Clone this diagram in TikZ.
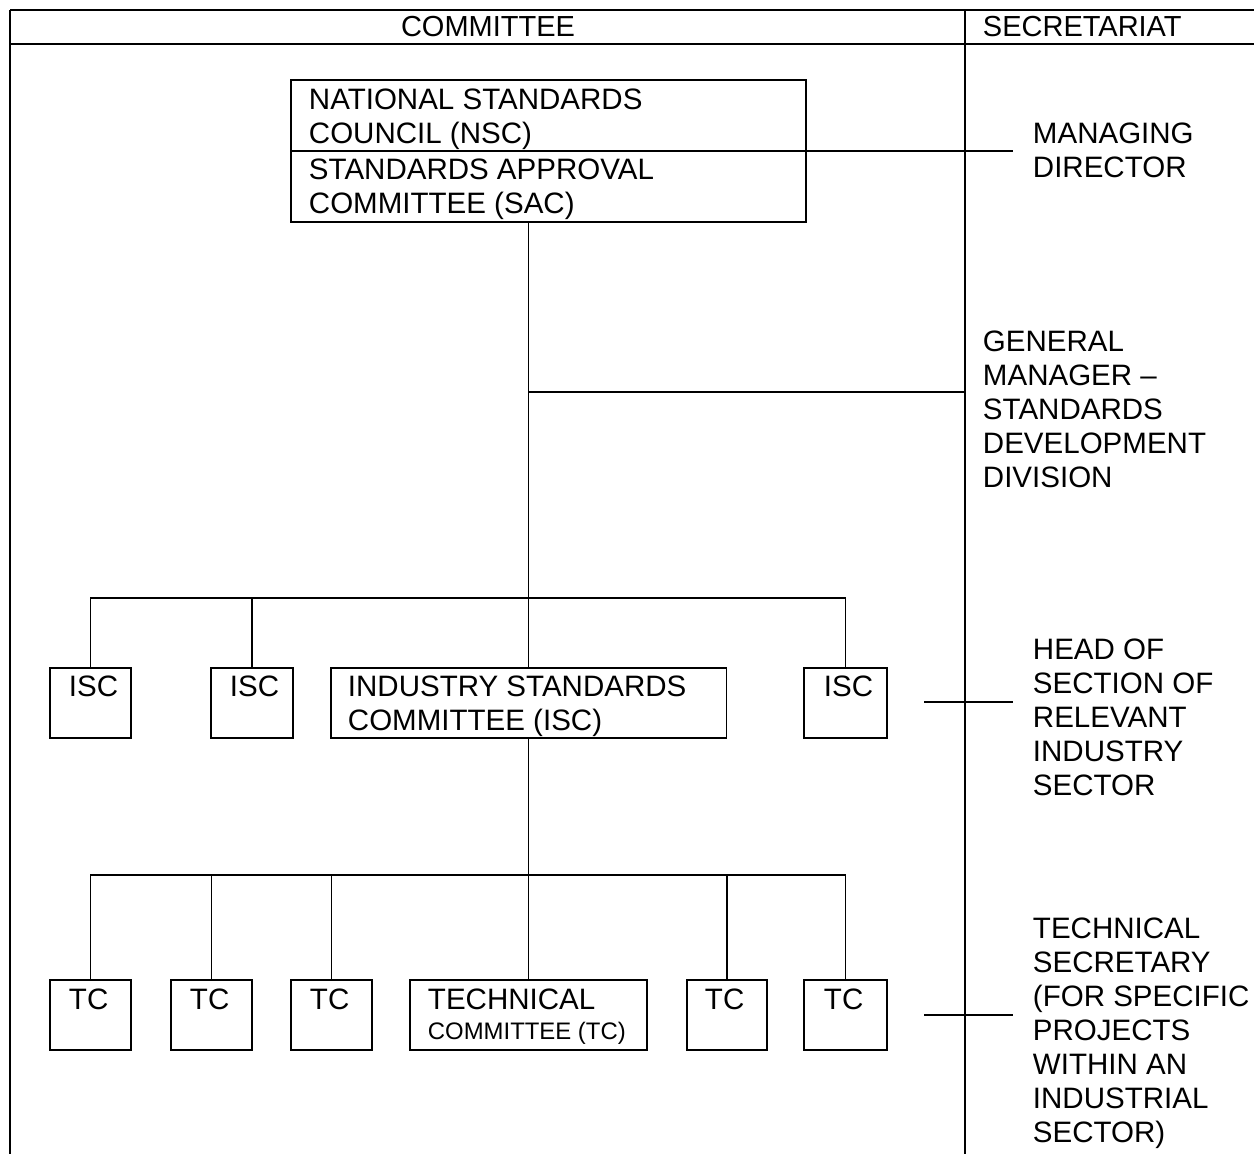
\documentclass[tikz,border=0pt]{standalone}
\usepackage{fontspec}
\setmainfont{Liberation Sans}
\begin{document}
\begin{tikzpicture}[x=0.02cm,y=-0.02cm,
  line width=1.1pt,
  box/.style={draw,rectangle,inner sep=0pt},
  lbl/.style={anchor=north west,inner sep=0pt,align=left,font=\fontsize{16.8}{19.3}\selectfont},
  smalllbl/.style={anchor=base west,inner sep=0pt,font=\fontsize{13.6}{16}\selectfont},
  hdr/.style={inner sep=0pt,font=\fontsize{16.5}{19}\selectfont}]
\useasboundingbox (0,0) rectangle (1254,1154);
% frame
\draw[line width=1.6pt] (10,10) -- (1254,10);
\draw (10,44) -- (1254,44);
\draw (10,10) -- (10,1154);
\draw (965,10) -- (965,1154);
\node[hdr] (hcom) at (488,27) {COMMITTEE};
\node[hdr,anchor=west] (hsec) at (982,27) {SECRETARIAT};
% NSC / SAC
\node[box,minimum width=10.3cm,minimum height=2.84cm] (nsc) at (548.5,151) {};
\node[lbl] (nsct) at (308,88) {NATIONAL STANDARDS\\COUNCIL (NSC)};
\node[lbl] (sact) at (308,158) {STANDARDS APPROVAL\\COMMITTEE (SAC)};
\coordinate (mdend) at (1013,151);
\draw (nsc.west) -- (mdend);
\node[lbl] (md) at (1032,122) {MANAGING\\DIRECTOR};
% ISC row
\node[box,minimum width=1.62cm,minimum height=1.4cm] (isc1) at (90.5,703) {};
\node[box,minimum width=1.64cm,minimum height=1.4cm] (isc2) at (252,703) {};
\node[box,minimum width=7.92cm,minimum height=1.4cm] (iscm) at (528.5,703) {};
\node[box,minimum width=1.66cm,minimum height=1.4cm] (isc4) at (845.5,703) {};
\node[lbl] (isc1t) at (68,675) {ISC};
\node[lbl] (isc2t) at (229,675) {ISC};
\node[lbl] (isc4t) at (823,675) {ISC};
\node[lbl] (iscmt) at (347,675) {INDUSTRY STANDARDS\\COMMITTEE (ISC)};
% trunk
\coordinate (gm) at (528.5,392);
\coordinate (gmend) at (965,392);
\coordinate (ib) at (528.5,598);
\coordinate (tb) at (528.5,875);
\draw (iscm.north |- nsc.south) -- (iscm.north);
\draw (gm) -- (gmend);
\node[lbl] (gmt) at (982,330) {GENERAL\\MANAGER --\\STANDARDS\\DEVELOPMENT\\DIVISION};
\draw (isc1.north) |- (isc4.north |- ib) -- (isc4.north);
\draw (isc2.north) -- (isc2.north |- ib);
% secretariat ISC
\coordinate (hs1) at (924,702);
\coordinate (hs2) at (1013,702);
\draw (hs1) -- (hs2);
\node[lbl] (hst) at (1032,638) {HEAD OF\\SECTION OF\\RELEVANT\\INDUSTRY\\SECTOR};
% TC row
\node[box,minimum width=1.62cm,minimum height=1.4cm] (tc1) at (90.5,1015) {};
\node[box,minimum width=1.62cm,minimum height=1.4cm] (tc2) at (211.5,1015) {};
\node[box,minimum width=1.62cm,minimum height=1.4cm] (tc3) at (331.5,1015) {};
\node[box,minimum width=4.74cm,minimum height=1.4cm] (tcm) at (528.5,1015) {};
\node[box,minimum width=1.6cm,minimum height=1.4cm] (tc5) at (727,1015) {};
\node[box,minimum width=1.66cm,minimum height=1.4cm] (tc6) at (845.5,1015) {};
\node[lbl] (tc1t) at (68,988) {TC};
\node[lbl] (tc2t) at (189,988) {TC};
\node[lbl] (tc3t) at (309,988) {TC};
\node[lbl] (tc5t) at (704,988) {TC};
\node[lbl] (tc6t) at (823,988) {TC};
\node[lbl] (tcmt) at (427,988) {TECHNICAL};
\node[smalllbl] (tcmt2) at (427,1039) {COMMITTEE (TC)};
\draw (iscm.south) -- (tcm.north);
\draw (tc1.north) |- (tc6.north |- tb) -- (tc6.north);
\draw (tc2.north) -- (tc2.north |- tb);
\draw (tc3.north) -- (tc3.north |- tb);
\draw (tc5.north) -- (tc5.north |- tb);
% secretariat TC
\coordinate (ts1) at (924,1015);
\coordinate (ts2) at (1013,1015);
\draw (ts1) -- (ts2);
\node[lbl] (tst) at (1032,917) {TECHNICAL\\SECRETARY\\(FOR SPECIFIC\\PROJECTS\\WITHIN AN\\INDUSTRIAL\\SECTOR)};
\end{tikzpicture}
\end{document}
